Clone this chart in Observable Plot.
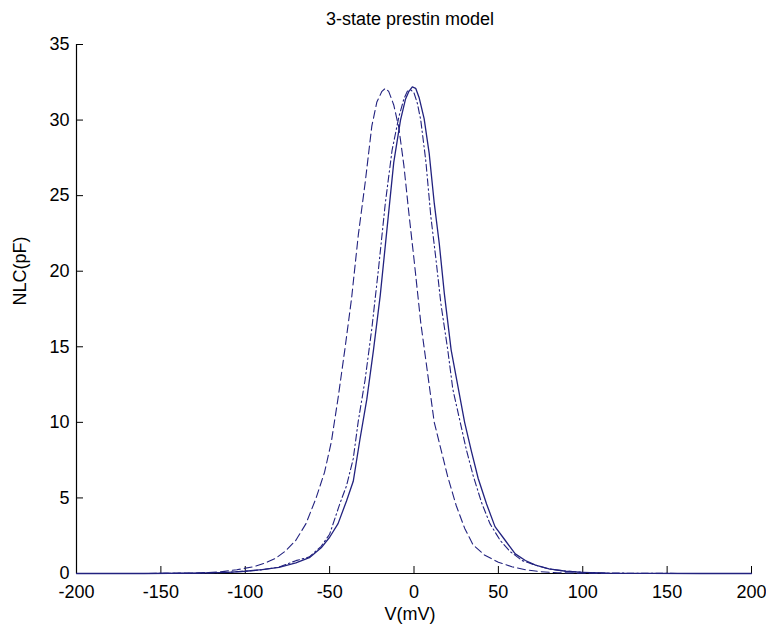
<!DOCTYPE html>
<html>
<head>
<meta charset="utf-8">
<script src="https://cdn.jsdelivr.net/npm/d3@7"></script>
<script src="https://cdn.jsdelivr.net/npm/@observablehq/plot@0.6"></script>
<style>
  html, body { margin: 0; padding: 0; background: #fff; }
  #chart svg { display: block; }
</style>
</head>
<body>
<div id="chart"></div>
<script>
const titleText = "3-state prestin model";
const xLabel = "V(mV)";
const yLabel = "NLC(pF)";
const xTicks = [-200, -150, -100, -50, 0, 50, 100, 150, 200];
const yTicks = [0, 5, 10, 15, 20, 25, 30, 35];

// solid curve
const solidV = [-200,-160,-130,-110,-100,-90,-80,-70,-62,-55,-50,-45,-40,-36,-32,-28,-24,-20,-16,-12,-8,-5,-3,-1,1,3,6,9,12,15,18,22,26,30,34,38,43,48,54,60,66,72,80,90,100,115,140,170,200];
const solidC = [0,0,0.02,0.08,0.15,0.25,0.4,0.7,1.05,1.7,2.4,3.3,4.8,6.1,8.9,11.5,14.8,18.4,22.8,27.2,30.0,31.4,31.9,32.2,32.1,31.5,30.1,27.8,24.5,21.8,18.5,14.8,12.4,10,8.1,6.3,4.6,3.1,2.2,1.3,0.86,0.55,0.3,0.15,0.08,0.03,0.01,0,0];

// dash-dot curve
const dashDotV = [-200,-160,-130,-110,-100,-90,-80,-70,-62,-55,-50,-44,-40,-36,-33,-29,-25,-21,-17,-13,-9,-6,-4,-2,0,2,4,7,10,13,16,20,23,27,31,35,40,45,51,57,64,72,80,90,100,115,140,170,200];
const dashDotC = [0,0,0.02,0.08,0.15,0.25,0.42,0.85,1.1,1.8,2.6,4.6,5.8,7.6,10.1,12.8,16.2,20.2,24.5,28,30.2,31.4,31.9,32.0,31.8,31.1,30,27.3,23.6,20.8,17.8,14.8,12.2,10.2,8.2,6.5,4.7,3.3,2.2,1.45,0.86,0.55,0.3,0.15,0.08,0.03,0.01,0,0];

// dashed curve
const dashedV = [-200,-160,-130,-115,-105,-95,-88,-82,-76,-70,-64,-58,-53,-49,-45,-41,-37,-33,-29,-25,-22,-19,-17,-15,-12,-9,-6,-3,0,4,8,12,16,20,25,30,35,42,50,58,66,75,85,100,120,150,200];
const dashedC = [0,0,0.03,0.1,0.25,0.45,0.7,1.0,1.5,2.2,3.3,5.0,6.7,8.7,11.6,14.8,18.2,22.4,25.8,29.6,31.2,31.9,32.1,31.9,31.0,29.5,27.0,23.8,20.8,16.6,13.3,10.0,8.2,6.4,4.5,3.0,1.9,1.2,0.75,0.45,0.25,0.12,0.05,0.02,0,0,0];

const toRows = (V, C) => V.map((v, i) => ({V: v, C: C[i]}));
const solid = toRows(solidV, solidC);
const dashDot = toRows(dashDotV, dashDotC);
const dashed = toRows(dashedV, dashedC);

const lineColor = "#22227f";
const font = "'Liberation Sans', Arial, sans-serif";

const chart = Plot.plot({
  width: 766,
  height: 632,
  marginTop: 44,
  marginBottom: 59,
  marginLeft: 76,
  marginRight: 15,
  style: {fontFamily: font, fontSize: "18px", color: "#000", background: "#fff", overflow: "visible"},
  x: {domain: [-200, 200], label: null},
  y: {domain: [0, 35], label: null},
  marks: [
    Plot.ruleY([0], {stroke: "#000", strokeWidth: 1.2}),
    Plot.ruleX([-200], {stroke: "#000", strokeWidth: 1.2}),
    Plot.axisX({ticks: xTicks, tickSize: -7, tickPadding: 19, tickFormat: d => String(d), fontSize: 18, stroke: "#000", label: null}),
    Plot.axisY({ticks: yTicks, tickSize: -7, tickPadding: 14, tickFormat: d => String(d), fontSize: 18, stroke: "#000", label: null}),
    Plot.line(dashed, {x: "V", y: "C", stroke: lineColor, strokeWidth: 1.1, strokeDasharray: "8,4"}),
    Plot.line(dashDot, {x: "V", y: "C", stroke: lineColor, strokeWidth: 1.1, strokeDasharray: "7,3,1.5,3"}),
    Plot.line(solid, {x: "V", y: "C", stroke: lineColor, strokeWidth: 1.3}),
    Plot.text([titleText], {frameAnchor: "top", lineAnchor: "middle", textAnchor: "middle", dy: -25, dx: -4, fontSize: 18, fill: "#000"}),
    Plot.text([xLabel], {frameAnchor: "bottom", lineAnchor: "middle", textAnchor: "middle", dy: 41, dx: -4, fontSize: 18, fill: "#000"}),
    Plot.text([yLabel], {frameAnchor: "left", rotate: -90, textAnchor: "middle", lineAnchor: "middle", dx: -56, dy: -38, fontSize: 18, fill: "#000"})
  ]
});
document.getElementById("chart").appendChild(chart);
</script>
</body>
</html>
